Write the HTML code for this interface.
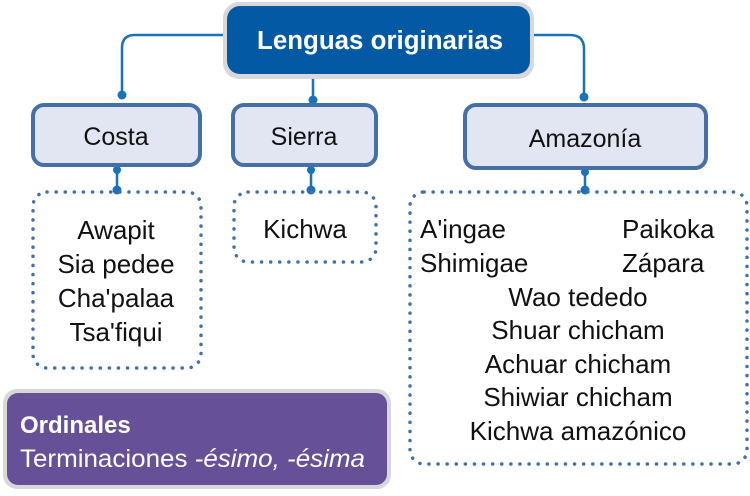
<!DOCTYPE html>
<html><head><meta charset="utf-8"><style>
body{margin:0;background:#fff}
svg text{font-family:"Liberation Sans",sans-serif}
</style></head><body>
<svg width="750" height="491" viewBox="0 0 750 491" xmlns="http://www.w3.org/2000/svg">
<g stroke="#1a73b8" stroke-width="2.5" fill="none">
<path d="M224 35 H135 Q122 35 122 48 V95"/>
<path d="M532 35 H570 Q584 35 584 49 V97"/>
<path d="M313 78 V100"/>
<path d="M117 167 V190"/>
<path d="M311 167 V190"/>
<path d="M585 170 V190"/>
</g>
<g fill="#1a73b8">
<circle cx="122" cy="95" r="4.5"/><circle cx="584" cy="97" r="4.5"/><circle cx="313" cy="100" r="4.5"/>
<circle cx="117" cy="170" r="4"/><circle cx="117" cy="190" r="4.5"/>
<circle cx="311" cy="170" r="4"/><circle cx="311" cy="190" r="4.5"/>
<circle cx="585" cy="172" r="4"/><circle cx="585" cy="190" r="4.5"/>
</g>
<rect x="223" y="2" width="311" height="77" rx="16" fill="#d8d8da"/>
<rect x="227" y="6" width="303" height="68" rx="13" fill="#0459a4"/>
<text x="380" y="49" text-anchor="middle" fill="#fff" font-size="25.5" font-weight="bold" textLength="246" lengthAdjust="spacingAndGlyphs">Lenguas originarias</text>
<g fill="#e2e5f2" stroke="#4470a5" stroke-width="4">
<rect x="33" y="105" width="167" height="60" rx="11"/>
<rect x="233" y="105" width="143" height="60" rx="11"/>
<rect x="465" y="105" width="241" height="63" rx="11"/>
</g>
<g font-size="25" fill="#111" text-anchor="middle">
<text x="116" y="145">Costa</text>
<text x="304" y="145">Sierra</text>
<text x="585" y="147">Amazonía</text>
</g>
<g fill="none" stroke="#4470a5" stroke-width="3.5" stroke-dasharray="0.1 9" stroke-linecap="round">
<rect x="33" y="192" width="168" height="176" rx="14"/>
<rect x="234" y="192" width="142" height="70" rx="14"/>
<rect x="410" y="192" width="337" height="272" rx="14"/>
</g>
<g font-size="26" fill="#111" text-anchor="middle">
<text x="116" y="239">Awapit</text>
<text x="116" y="273">Sia pedee</text>
<text x="116" y="307">Cha'palaa</text>
<text x="116" y="341">Tsa'fiqui</text>
<text x="305" y="238">Kichwa</text>
<text x="420" y="238" text-anchor="start">A'ingae</text>
<text x="622" y="238" text-anchor="start">Paikoka</text>
<text x="420" y="272" text-anchor="start">Shimigae</text>
<text x="622" y="272" text-anchor="start">Zápara</text>
<text x="578" y="306">Wao tededo</text>
<text x="578" y="339">Shuar chicham</text>
<text x="578" y="373">Achuar chicham</text>
<text x="578" y="406">Shiwiar chicham</text>
<text x="578" y="440">Kichwa amazónico</text>
</g>
<rect x="3" y="389" width="388" height="100" rx="14" fill="#d8d8da"/>
<rect x="7" y="393" width="380" height="92" rx="11" fill="#665198"/>
<text x="20" y="433" fill="#fff" font-size="24" font-weight="bold">Ordinales</text>
<text x="20" y="467" fill="#fff" font-size="25" textLength="345" lengthAdjust="spacingAndGlyphs">Terminaciones <tspan font-style="italic">-ésimo, -ésima</tspan></text>
</svg>
</body></html>
